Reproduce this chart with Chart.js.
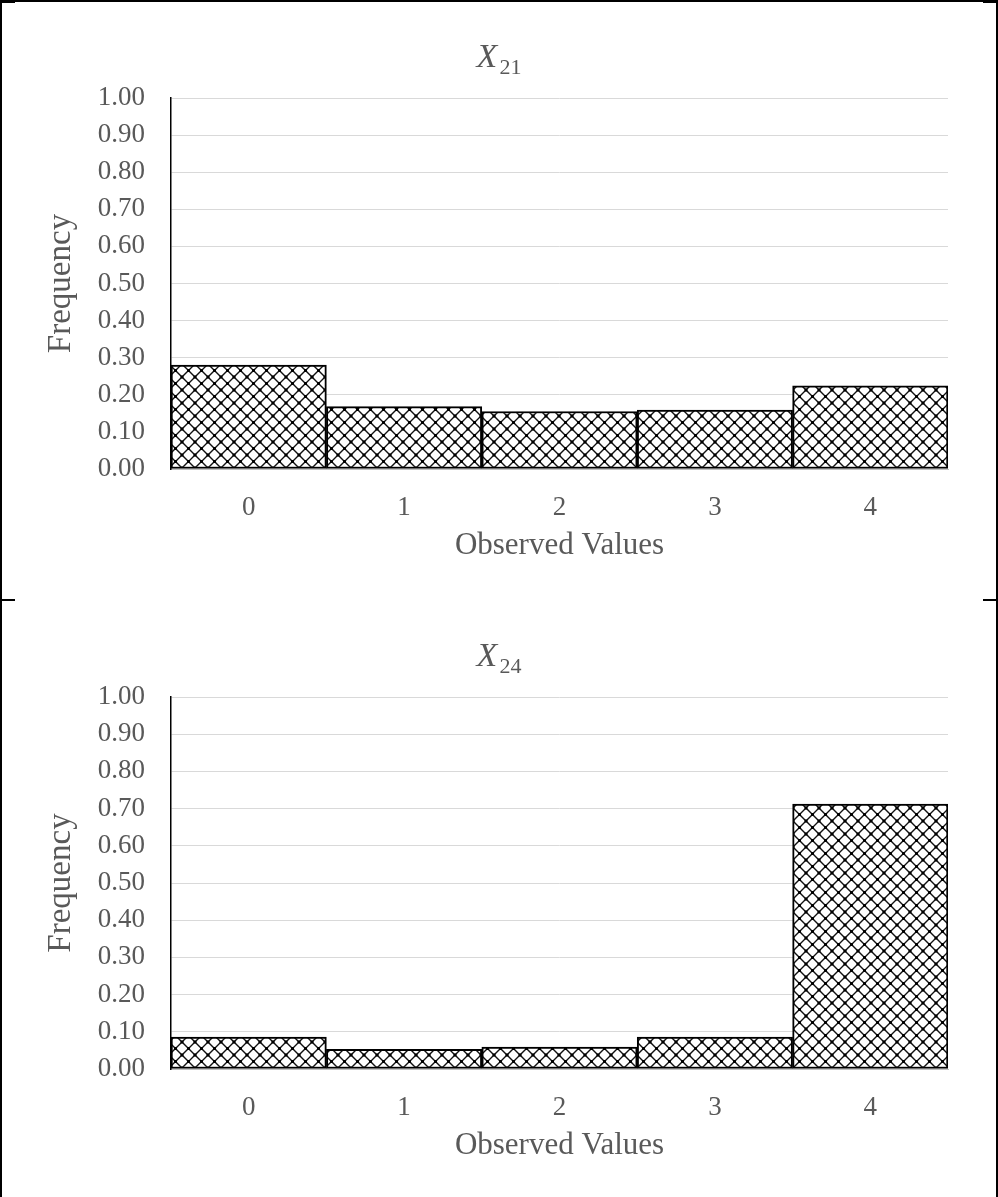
<!DOCTYPE html>
<html>
<head>
<meta charset="utf-8">
<script src="https://cdn.jsdelivr.net/npm/chart.js@4"></script>
<style>
  body { margin: 0; background: #fff; }
  .page { position: relative; width: 998px; height: 1197px; overflow: hidden; }
  .page canvas { position: absolute; left: 0; }
  .rule { position: absolute; background: #000; }
</style>
</head>
<body>
<div class="page">
  <canvas id="chartTop" width="998" height="600" style="top:0"></canvas>
  <canvas id="chartBottom" width="998" height="600" style="top:600px"></canvas>
  <div class="rule" style="left:0;top:0;width:998px;height:2px"></div>
  <div class="rule" style="left:0;top:0;width:2px;height:1197px"></div>
  <div class="rule" style="left:996px;top:0;width:2px;height:1197px"></div>
  <div class="rule" style="left:0;top:0;width:15px;height:3px"></div>
  <div class="rule" style="left:983px;top:0;width:15px;height:3px"></div>
  <div class="rule" style="left:0;top:599px;width:15px;height:2px"></div>
  <div class="rule" style="left:983px;top:599px;width:15px;height:2px"></div>
</div>
<script>
const categories = ['0', '1', '2', '3', '4']
const freqX21 = [0.280, 0.168, 0.155, 0.159, 0.224]
const freqX24 = [0.086, 0.053, 0.059, 0.086, 0.712]
const yTickStep = 0.1

const serif = '"Liberation Serif", "Times New Roman", serif'
const textGrey = '#595959'

// diamond hatch used to fill the bars
const makeHatch = () => {
  const size = 13
  const tile = document.createElement('canvas')
  tile.width = size
  tile.height = size
  const c = tile.getContext('2d')
  c.fillStyle = '#fff'
  c.fillRect(0, 0, size, size)
  c.strokeStyle = '#111'
  c.lineWidth = 1.4
  c.beginPath()
  c.moveTo(0, 0)
  c.lineTo(size, size)
  c.moveTo(size, 0)
  c.lineTo(0, size)
  c.stroke()
  c.fillStyle = '#000'
  c.fillRect(size / 2 - 1.5, size / 2 - 1.5, 3, 3)
  c.fillRect(0, 0, 1.5, 1.5)
  c.fillRect(size - 1.5, 0, 1.5, 1.5)
  c.fillRect(0, size - 1.5, 1.5, 1.5)
  c.fillRect(size - 1.5, size - 1.5, 1.5, 1.5)
  return c.createPattern(tile, 'repeat')
}

// title with italic X and a subscript index
const subTitle = {
  id: 'subTitle',
  afterDraw (chart, args, opts) {
    const ctx = chart.ctx
    ctx.save()
    ctx.fillStyle = textGrey
    ctx.textBaseline = 'alphabetic'
    ctx.font = 'italic 34px ' + serif
    const wMain = ctx.measureText('X').width
    ctx.font = '22px ' + serif
    const wSub = ctx.measureText(opts.sub).width
    const x0 = chart.width / 2 - (wMain + wSub + 2) / 2
    ctx.font = 'italic 34px ' + serif
    ctx.fillText('X', x0, opts.y)
    ctx.font = '22px ' + serif
    ctx.fillText(opts.sub, x0 + wMain + 2, opts.y + 7)
    ctx.restore()
  }
}

const createChart = (id, values, sub, padTop) => {
  const canvas = document.querySelector(id)
  const data = {
    labels: categories,
    datasets: [{
      data: values,
      backgroundColor: makeHatch(),
      borderColor: '#000',
      borderWidth: 2,
      borderSkipped: false,
      categoryPercentage: 1,
      barPercentage: 1
    }]
  }

  const options = {
    responsive: false,
    animation: false,
    layout: {
      padding: { top: padTop, right: 50, left: 0, bottom: 0 }
    },
    plugins: {
      legend: { display: false },
      tooltip: { enabled: false },
      subTitle: { sub, y: padTop - 31 }
    },
    scales: {
      x: {
        grid: { display: false, drawTicks: false },
        border: { color: '#bfbfbf', width: 1 },
        ticks: {
          color: textGrey,
          padding: 23,
          font: { family: serif, size: 27 }
        },
        title: {
          display: true,
          text: 'Observed Values',
          color: textGrey,
          padding: { top: 0, bottom: 36 },
          font: { family: serif, size: 31 }
        },
        afterFit: scale => { scale.height = 600 - 469 }
      },
      y: {
        min: 0,
        max: 1,
        grid: { color: '#d9d9d9', lineWidth: 1, drawTicks: false },
        border: { color: '#000', width: 1.5 },
        ticks: {
          stepSize: yTickStep,
          color: textGrey,
          padding: 26,
          font: { family: serif, size: 27 },
          callback: v => v.toFixed(2)
        },
        title: {
          display: true,
          text: 'Frequency',
          color: textGrey,
          padding: { top: 42, bottom: 0 },
          font: { family: serif, size: 33 }
        },
        afterFit: scale => { scale.width = 171 }
      }
    }
  }

  return new Chart(canvas, { type: 'bar', data, options, plugins: [subTitle] })
}

createChart('#chartTop', freqX21, '21', 98)
createChart('#chartBottom', freqX24, '24', 97)
</script>
</body>
</html>
